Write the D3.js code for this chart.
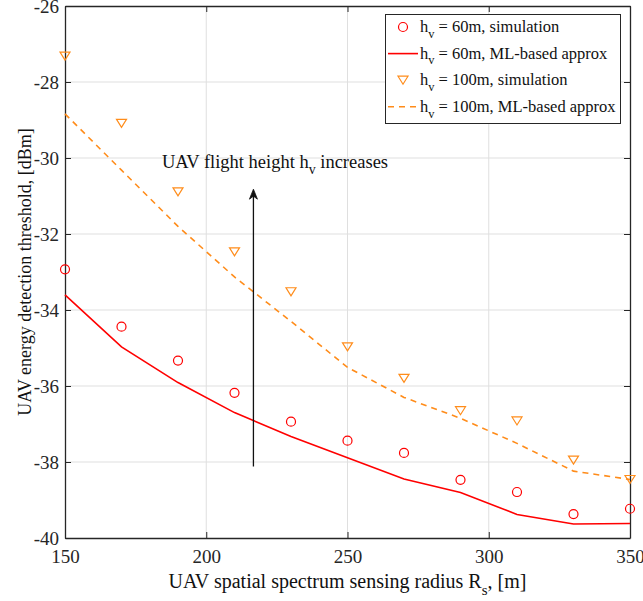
<!DOCTYPE html>
<html>
<head>
<meta charset="utf-8">
<script src="https://cdn.jsdelivr.net/npm/d3@7"></script>
<style>
  html, body { margin: 0; padding: 0; background: #fff; }
  svg { display: block; font-family: "Liberation Serif", "Times New Roman", serif; }
  .grid line { stroke: #dfdfdf; stroke-width: 1; }
  .tick text { fill: #262626; }
</style>
</head>
<body>
<svg id="chart" width="643" height="601"></svg>
<script>
// ---- data ----
const radius = [150, 170, 190, 210, 230, 250, 270, 290, 310, 330, 350];
const sim60 = [-32.93, -34.44, -35.33, -36.18, -36.94, -37.44, -37.76, -38.47, -38.79, -39.37, -39.23];
const ml60 = [-33.6, -34.97, -35.91, -36.7, -37.33, -37.89, -38.45, -38.8, -39.38, -39.63, -39.62];
const sim100 = [-27.32, -29.09, -30.89, -32.47, -33.52, -34.97, -35.8, -36.65, -36.92, -37.95, -38.46];
const ml100 = [-28.84, -30.32, -31.8, -33.13, -34.3, -35.51, -36.3, -36.85, -37.51, -38.24, -38.46];
const xTicks = [150, 200, 250, 300, 350];
const yTicks = [-40, -38, -36, -34, -32, -30, -28, -26];

const RED = "#ff0000";
const ORANGE = "#ff8c1a";
const AXIS = "#262626";
const FONT = "'Liberation Serif', 'Times New Roman', serif";

const W = 643, H = 601;
const m = { top: 6, right: 13, bottom: 63, left: 65 };
const svg = d3.select("#chart");

const x = d3.scaleLinear().domain([150, 350]).range([m.left, W - m.right]);
const y = d3.scaleLinear().domain([-40, -26]).range([H - m.bottom, m.top]);
const hyphen = (d) => String(d); // matlab-style "-26", not the unicode minus

// ---- grid ----
const grid = svg.append("g").attr("class", "grid");
grid.selectAll("line.gx").data(xTicks.slice(1, -1)).join("line")
  .attr("x1", (d) => x(d)).attr("x2", (d) => x(d))
  .attr("y1", y(-40)).attr("y2", y(-26));
grid.selectAll("line.gy").data(yTicks.slice(1, -1)).join("line")
  .attr("y1", (d) => y(d)).attr("y2", (d) => y(d))
  .attr("x1", x(150)).attr("x2", x(350));

// ---- axes (inward ticks, box on) ----
function styleAxis(g) {
  g.attr("font-family", FONT);
  g.select(".domain").attr("stroke", AXIS).attr("stroke-width", 1.3);
  g.selectAll(".tick line").attr("stroke", AXIS).attr("stroke-width", 1);
  g.selectAll(".tick text").attr("font-size", 19);
}
svg.append("g").attr("transform", `translate(0,${y(-40)})`)
  .call(d3.axisBottom(x).tickValues(xTicks).tickFormat(hyphen).tickSizeInner(-6).tickSizeOuter(0).tickPadding(12))
  .call(styleAxis);
svg.append("g").attr("transform", `translate(${x(150)},0)`)
  .call(d3.axisLeft(y).tickValues(yTicks).tickFormat(hyphen).tickSizeInner(-6).tickSizeOuter(0).tickPadding(6))
  .call(styleAxis);
svg.append("g").attr("transform", `translate(0,${y(-26)})`)
  .call(d3.axisTop(x).tickValues(xTicks).tickSizeInner(-6).tickSizeOuter(0).tickFormat(""))
  .call(styleAxis);
svg.append("g").attr("transform", `translate(${x(350)},0)`)
  .call(d3.axisRight(y).tickValues(yTicks).tickSizeInner(-6).tickSizeOuter(0).tickFormat(""))
  .call(styleAxis);

// ---- series ----
const line = d3.line().x((d) => x(d[0])).y((d) => y(d[1]));
const zip = (vals) => radius.map((r, i) => [r, vals[i]]);

svg.append("path").datum(zip(ml100)).attr("d", line)
  .attr("fill", "none").attr("stroke", ORANGE).attr("stroke-width", 1.6).attr("stroke-dasharray", "6,5");
svg.append("path").datum(zip(ml60)).attr("d", line)
  .attr("fill", "none").attr("stroke", RED).attr("stroke-width", 1.6);

const tri = "M-5,-4L5,-4L0,4Z";
svg.append("g").selectAll("path").data(zip(sim100)).join("path")
  .attr("d", tri).attr("transform", (d) => `translate(${x(d[0])},${y(d[1])})`)
  .attr("fill", "none").attr("stroke", ORANGE).attr("stroke-width", 1.2);
svg.append("g").selectAll("circle").data(zip(sim60)).join("circle")
  .attr("cx", (d) => x(d[0])).attr("cy", (d) => y(d[1])).attr("r", 4.5)
  .attr("fill", "none").attr("stroke", RED).attr("stroke-width", 1.2);

// ---- annotation arrow ----
const ax = 216.7;
svg.append("line")
  .attr("x1", x(ax)).attr("x2", x(ax)).attr("y1", y(-38.12)).attr("y2", y(-30.9))
  .attr("stroke", "#111").attr("stroke-width", 1.3);
svg.append("path")
  .attr("d", `M${x(ax)},${y(-30.82)}l-4,10l4,-3l4,3Z`)
  .attr("fill", "#111").attr("stroke", "#111").attr("stroke-width", 0.8);

function subText(sel, xPos, yPos, size, pre, sub, post, anchor) {
  const t = sel.append("text").attr("x", xPos).attr("y", yPos).attr("font-size", size)
    .attr("fill", "#111").attr("text-anchor", anchor || "start");
  t.append("tspan").text(pre);
  t.append("tspan").text(sub).attr("font-size", size * 0.75).attr("dy", size * 0.35);
  t.append("tspan").text(post).attr("dy", -size * 0.35);
  return t;
}
subText(svg, x(184.3), y(-30.26), 18.5, "UAV flight height h", "v", " increases");

// ---- axis labels ----
subText(svg, (x(150) + x(350)) / 2, 588, 20, "UAV spatial spectrum sensing radius R", "s", ", [m]", "middle");
svg.append("text")
  .attr("transform", `translate(31,${(y(-26) + y(-40)) / 2}) rotate(-90)`)
  .attr("text-anchor", "middle").attr("font-size", 18).attr("fill", "#111")
  .text("UAV energy detection threshold, [dBm]");

// ---- legend ----
const lg = svg.append("g");
lg.append("rect").attr("x", 385.5).attr("y", 14.5).attr("width", 235).attr("height", 109)
  .attr("fill", "#fff").attr("stroke", AXIS).attr("stroke-width", 1);
const legendItems = [
  { kind: "circle", color: RED, label: "= 60m, simulation" },
  { kind: "solid", color: RED, label: "= 60m, ML-based approx" },
  { kind: "tri", color: ORANGE, label: "= 100m, simulation" },
  { kind: "dash", color: ORANGE, label: "= 100m, ML-based approx" },
];
legendItems.forEach((it, i) => {
  const cy = 27 + i * 26.6;
  if (it.kind === "circle") {
    lg.append("circle").attr("cx", 403).attr("cy", cy).attr("r", 4.5)
      .attr("fill", "none").attr("stroke", it.color).attr("stroke-width", 1.2);
  } else if (it.kind === "tri") {
    lg.append("path").attr("d", tri).attr("transform", `translate(403,${cy})`)
      .attr("fill", "none").attr("stroke", it.color).attr("stroke-width", 1.2);
  } else {
    lg.append("line").attr("x1", 388).attr("x2", 418).attr("y1", cy).attr("y2", cy)
      .attr("stroke", it.color).attr("stroke-width", 1.6)
      .attr("stroke-dasharray", it.kind === "dash" ? "6,5" : null);
  }
  subText(lg, 420, cy + 5, 16.5, "h", "v", " " + it.label);
});
</script>
</body>
</html>
